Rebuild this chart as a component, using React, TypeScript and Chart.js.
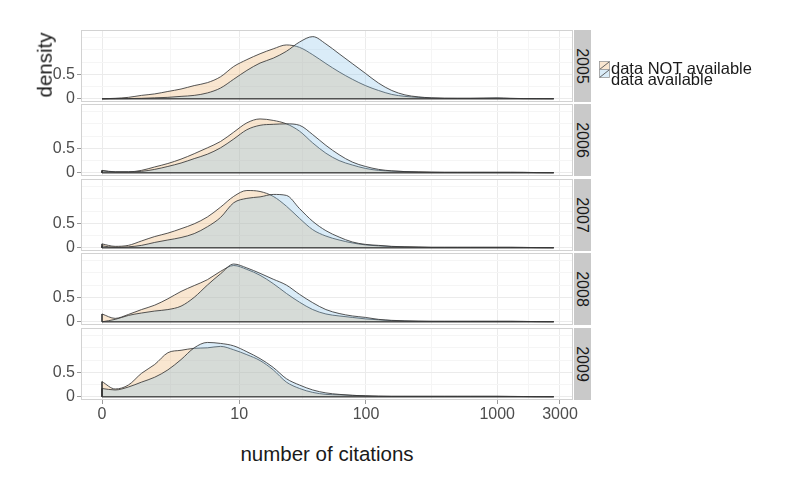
import React, { useEffect, useRef } from "react";
import { Chart, registerables } from "chart.js";

Chart.register(...registerables);

// ---------------- data ----------------
const years = ["2005", "2006", "2007", "2008", "2009"];
const seriesLabels = ["data NOT available", "data available"];

// x positions of the density samples, in log10(1 + citations) units
const xLog = [
  0, 0.1, 0.2, 0.3, 0.4, 0.5, 0.6, 0.7, 0.8, 0.9, 1.0, 1.1, 1.2, 1.3, 1.4, 1.5, 1.6, 1.7,
  1.8, 1.9, 2.0, 2.1, 2.2, 2.3, 2.4, 2.5, 2.6, 2.7, 2.8, 2.9, 3.0, 3.1, 3.2, 3.3, 3.43,
];

const xTickCitations = [0, 10, 100, 1000, 3000];
const yTickLabels = [0, 0.5];
const yGridValues = [0, 0.25, 0.5, 0.75, 1, 1.25];

const notAvailable2005 = [0, 0.01, 0.03, 0.07, 0.1, 0.15, 0.2, 0.27, 0.33, 0.45, 0.66, 0.8, 0.92, 1.02, 1.1, 1.05, 0.9, 0.72, 0.55, 0.4, 0.27, 0.17, 0.09, 0.05, 0.03, 0.015, 0.01, 0.01, 0.01, 0.01, 0.01, 0.008, 0.005, 0.004, 0.003];
const available2005 = [0, 0.003, 0.005, 0.01, 0.02, 0.03, 0.05, 0.07, 0.12, 0.22, 0.4, 0.58, 0.73, 0.83, 0.97, 1.16, 1.27, 1.12, 0.92, 0.72, 0.52, 0.32, 0.17, 0.08, 0.04, 0.02, 0.012, 0.01, 0.01, 0.015, 0.02, 0.01, 0.005, 0.004, 0.003];

const notAvailable2006 = [0.05, 0.02, 0.02, 0.05, 0.12, 0.19, 0.28, 0.39, 0.51, 0.64, 0.83, 1.02, 1.1, 1.07, 1.0, 0.85, 0.61, 0.4, 0.25, 0.16, 0.09, 0.05, 0.035, 0.025, 0.02, 0.015, 0.01, 0.01, 0.01, 0.01, 0.01, 0.01, 0.008, 0.005, 0.003];
const available2006 = [0.04, 0.02, 0.02, 0.03, 0.07, 0.13, 0.2, 0.29, 0.38, 0.51, 0.69, 0.88, 0.97, 0.99, 1.0, 0.97, 0.78, 0.56, 0.37, 0.22, 0.13, 0.07, 0.04, 0.025, 0.015, 0.01, 0.01, 0.01, 0.01, 0.01, 0.01, 0.01, 0.01, 0.005, 0.003];

const notAvailable2007 = [0.08, 0.03, 0.05, 0.14, 0.23, 0.3, 0.39, 0.49, 0.63, 0.83, 1.05, 1.17, 1.15, 1.05, 0.85, 0.6, 0.37, 0.24, 0.16, 0.1, 0.06, 0.04, 0.025, 0.02, 0.015, 0.01, 0.01, 0.01, 0.01, 0.01, 0.01, 0.01, 0.008, 0.005, 0.003];
const available2007 = [0.04, 0.01, 0.02, 0.05, 0.11, 0.16, 0.21, 0.29, 0.43, 0.62, 0.92, 1.01, 1.04, 1.09, 1.07, 0.8, 0.54, 0.35, 0.22, 0.12, 0.07, 0.05, 0.03, 0.02, 0.015, 0.01, 0.01, 0.01, 0.01, 0.01, 0.01, 0.01, 0.008, 0.005, 0.003];

const notAvailable2008 = [0.16, 0.07, 0.15, 0.25, 0.34, 0.47, 0.62, 0.74, 0.86, 1.03, 1.15, 1.07, 0.95, 0.78, 0.58, 0.4, 0.25, 0.16, 0.12, 0.09, 0.06, 0.04, 0.025, 0.015, 0.01, 0.01, 0.01, 0.01, 0.01, 0.01, 0.01, 0.01, 0.008, 0.005, 0.003];
const available2008 = [0.0, 0.05, 0.13, 0.18, 0.22, 0.25, 0.32, 0.5, 0.75, 0.98, 1.18, 1.1, 0.99, 0.87, 0.75, 0.56, 0.39, 0.25, 0.17, 0.12, 0.09, 0.05, 0.03, 0.02, 0.015, 0.01, 0.01, 0.01, 0.01, 0.01, 0.01, 0.01, 0.008, 0.005, 0.003];

const notAvailable2009 = [0.31, 0.16, 0.24, 0.48, 0.66, 0.9, 0.95, 0.99, 1.0, 1.03, 0.96, 0.86, 0.74, 0.55, 0.3, 0.17, 0.09, 0.05, 0.04, 0.03, 0.02, 0.01, 0.01, 0.01, 0.01, 0.01, 0.01, 0.01, 0.01, 0.01, 0.01, 0.008, 0.006, 0.004, 0.003];
const available2009 = [0.17, 0.14, 0.2, 0.3, 0.4, 0.55, 0.76, 1.0, 1.11, 1.09, 1.04, 0.92, 0.78, 0.6, 0.37, 0.24, 0.14, 0.08, 0.05, 0.03, 0.02, 0.015, 0.01, 0.01, 0.01, 0.01, 0.01, 0.01, 0.01, 0.01, 0.01, 0.008, 0.006, 0.004, 0.003];

const notAvailableByYear = [notAvailable2005, notAvailable2006, notAvailable2007, notAvailable2008, notAvailable2009];
const availableByYear = [available2005, available2006, available2007, available2008, available2009];

// ---------------- styling / layout ----------------
const FONT = "'Liberation Sans', Arial, Helvetica, sans-serif";
const ORANGE_FILL = "rgba(235,172,98,0.3)";
const BLUE_FILL = "rgba(132,192,232,0.3)";
const OUTLINE = "rgba(55,55,55,0.85)";
const TICK_TEXT = "#4d4d4d";
const PANEL_TOPS = [30, 104, 179, 253, 328];
const PANEL_H = 72;
const PANEL_LEFT = 81;
const PANEL_RIGHT = 573;
const PAD = 12;
const CANVAS_W = 600;
const X_AXIS_H = 30;
const X_MIN = -0.1595;
const X_MAX = 3.576;
const Y_MIN = -0.065;
const Y_MAX = 1.405;

const xMajor = xTickCitations.map((c) => Math.log10(1 + c));
const xMinor = xMajor.slice(1).map((v, i) => (v + xMajor[i]) / 2);
const xAllTicks = [...xMajor, ...xMinor].sort((a, b) => a - b);
const isMajorX = (v: number) => xMajor.some((m) => Math.abs(m - v) < 1e-9);
const isMajorY = (v: number) => yTickLabels.some((m) => Math.abs(m - v) < 1e-9);

const borderPlugin = {
  id: "panelBorder",
  afterDatasetsDraw(chart: any) {
    const { left, top, right, bottom } = chart.chartArea;
    const ctx = chart.ctx;
    ctx.save();
    ctx.strokeStyle = "#d2d2d2";
    ctx.lineWidth = 1;
    ctx.strokeRect(left + 0.5, top + 0.5, right - left - 1, bottom - top - 1);
    ctx.restore();
  },
};

function Panel({ index }: { index: number }) {
  const ref = useRef<HTMLCanvasElement>(null);
  const isBottom = index === years.length - 1;
  const h = PAD + PANEL_H + (isBottom ? X_AXIS_H : PAD);

  useEffect(() => {
    const notAvail = notAvailableByYear[index];
    const avail = availableByYear[index];
    const pts = (vals: number[]) => xLog.map((x, k) => ({ x, y: vals[k] }));
    const edge = (vals: number[]) => [
      { x: xLog[0], y: vals[0] },
      { x: xLog[0], y: 0 },
      { x: xLog[xLog.length - 1], y: 0 },
    ];
    const curve = (label: string, vals: number[], fill: string) => ({
      label,
      data: pts(vals),
      fill: "origin",
      backgroundColor: fill,
      borderColor: OUTLINE,
      borderWidth: 1,
      pointRadius: 0,
      tension: 0.4,
      cubicInterpolationMode: "monotone",
    });
    const edgeLine = (label: string, vals: number[]) => ({
      label,
      data: edge(vals),
      fill: false,
      borderColor: OUTLINE,
      borderWidth: 1,
      pointRadius: 0,
      tension: 0,
    });

    const chart = new Chart(ref.current as HTMLCanvasElement, {
      type: "line",
      data: {
        datasets: [
          edgeLine("edge1", avail) as any,
          edgeLine("edge2", notAvail) as any,
          curve(seriesLabels[1], avail, BLUE_FILL) as any,
          curve(seriesLabels[0], notAvail, ORANGE_FILL) as any,
        ],
      },
      options: {
        animation: false,
        responsive: false,
        maintainAspectRatio: false,
        layout: { padding: { top: PAD, bottom: isBottom ? 0 : PAD, left: 0, right: CANVAS_W - PANEL_RIGHT } },
        plugins: { legend: { display: false }, tooltip: { enabled: false } },
        scales: {
          x: {
            type: "linear",
            min: X_MIN,
            max: X_MAX,
            afterBuildTicks: (s: any) => {
              s.ticks = xAllTicks.map((v) => ({ value: v }));
            },
            afterFit: (s: any) => {
              s.height = isBottom ? X_AXIS_H : 0;
            },
            ticks: {
              display: isBottom,
              autoSkip: false,
              maxRotation: 0,
              minRotation: 0,
              padding: 1,
              color: TICK_TEXT,
              font: { family: FONT, size: 16 },
              callback: (value: any) => {
                const k = xMajor.findIndex((m) => Math.abs(m - Number(value)) < 1e-9);
                return k >= 0 ? String(xTickCitations[k]) : "";
              },
            },
            grid: {
              drawTicks: isBottom,
              tickLength: 4,
              lineWidth: 1,
              color: (c: any) => (c.tick && isMajorX(c.tick.value) ? "#ebebeb" : "#f5f5f5"),
              tickColor: (c: any) => (c.tick && isMajorX(c.tick.value) ? "#9a9a9a" : "rgba(0,0,0,0)"),
            },
            border: { display: false },
          },
          y: {
            type: "linear",
            min: Y_MIN,
            max: Y_MAX,
            afterBuildTicks: (s: any) => {
              s.ticks = yGridValues.map((v) => ({ value: v }));
            },
            afterFit: (s: any) => {
              s.width = PANEL_LEFT;
            },
            ticks: {
              autoSkip: false,
              padding: 2,
              color: TICK_TEXT,
              font: { family: FONT, size: 16 },
              callback: (value: any) => (isMajorY(Number(value)) ? String(value) : ""),
            },
            grid: {
              drawTicks: true,
              tickLength: 4,
              lineWidth: 1,
              color: (c: any) => (c.tick && isMajorY(c.tick.value) ? "#ebebeb" : "#f5f5f5"),
              tickColor: (c: any) => (c.tick && isMajorY(c.tick.value) ? "#9a9a9a" : "rgba(0,0,0,0)"),
            },
            border: { display: false },
          },
        },
      } as any,
      plugins: [borderPlugin],
    });
    return () => chart.destroy();
  }, [index]);

  return (
    <canvas
      ref={ref}
      width={CANVAS_W}
      height={h}
      style={{ position: "absolute", left: 0, top: PANEL_TOPS[index] - PAD, width: CANVAS_W, height: h }}
    />
  );
}

function LegendKey({ fill, top }: { fill: string; top: number }) {
  return (
    <svg width={12} height={10} style={{ position: "absolute", left: 599, top }}>
      <rect x={0.5} y={0.5} width={10} height={8} fill="#ffffff" />
      <rect x={0.5} y={0.5} width={10} height={8} fill={fill} stroke="#9a9a9a" strokeWidth={0.8} />
      <line x1={0.8} y1={8.3} x2={10.3} y2={0.8} stroke="#555" strokeWidth={0.9} />
    </svg>
  );
}

export default function App() {
  return (
    <div
      style={{
        position: "absolute",
        left: 0,
        top: 0,
        width: 786,
        height: 490,
        background: "#ffffff",
        fontFamily: FONT,
        overflow: "hidden",
      }}
    >
      {years.map((y, i) => (
        <div
          key={"strip" + y}
          style={{
            position: "absolute",
            left: PANEL_RIGHT + 0.5,
            top: PANEL_TOPS[i],
            width: 17.5,
            height: PANEL_H,
            background: "#c9c9c9",
          }}
        >
          <div
            style={{
              position: "absolute",
              left: "50%",
              top: "50%",
              transform: "translate(-50%, -50%) rotate(90deg)",
              fontSize: 16,
              lineHeight: "16px",
              color: "#1a1a1a",
              whiteSpace: "nowrap",
            }}
          >
            {y}
          </div>
        </div>
      ))}
      {years.map((y, i) => (
        <Panel key={"panel" + y} index={i} />
      ))}
      <div
        style={{
          position: "absolute",
          left: 45,
          top: 65,
          transform: "translate(-50%, -50%) rotate(-90deg)",
          fontSize: 20.5,
          lineHeight: "20.5px",
          color: "#1a1a1a",
          whiteSpace: "nowrap",
        }}
      >
        density
      </div>
      <div
        style={{
          position: "absolute",
          left: 327,
          top: 443.5,
          transform: "translateX(-50%)",
          fontSize: 20.5,
          lineHeight: "20.5px",
          color: "#1a1a1a",
          whiteSpace: "nowrap",
        }}
      >
        number of citations
      </div>
      <LegendKey fill={ORANGE_FILL} top={60.5} />
      <LegendKey fill={BLUE_FILL} top={69} />
      <div
        style={{
          position: "absolute",
          left: 611,
          top: 59.5,
          fontSize: 16.5,
          lineHeight: "16.5px",
          color: "#1a1a1a",
          whiteSpace: "nowrap",
        }}
      >
        {seriesLabels[0]}
      </div>
      <div
        style={{
          position: "absolute",
          left: 611,
          top: 71.2,
          fontSize: 16.5,
          lineHeight: "16.5px",
          color: "#1a1a1a",
          whiteSpace: "nowrap",
        }}
      >
        {seriesLabels[1]}
      </div>
    </div>
  );
}
